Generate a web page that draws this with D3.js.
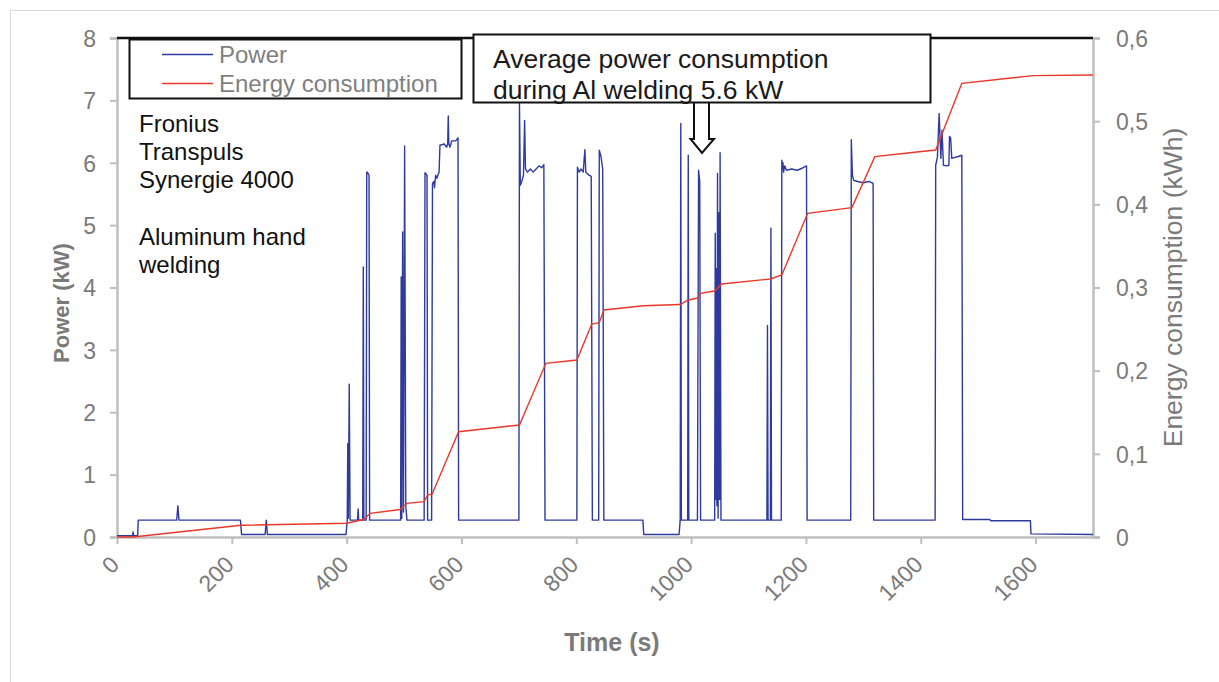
<!DOCTYPE html>
<html>
<head>
<meta charset="utf-8">
<script src="https://cdn.jsdelivr.net/npm/d3@7"></script>
<style>
  html, body { margin: 0; padding: 0; background: #fff; }
  svg { display: block; font-family: "Liberation Sans", Arial, sans-serif; }
</style>
</head>
<body>
<div id="chart"></div>
<script>
// power trace, [time s, kW]
const powerPoints = [
  [0,0.02],[27,0.02],[28,0.08],[29,0.02],[36,0.02],[37,0.27],[104,0.27],[106,0.5],[108,0.27],
  [215,0.27],[217,0.04],[258,0.04],[260,0.27],[262,0.04],[399,0.04],[401,0.27],[402,1.5],
  [403,0.3],[404.5,2.45],[406,0.27],[419,0.27],[420,0.45],[421,0.27],[428,0.27],[429,4.33],
  [430,0.27],[434,0.27],[435,5.85],[436,5.85],[439,5.8],[440,0.27],[494,0.27],[495,4.17],
  [496,0.3],[497.5,4.89],[499,0.4],[501,6.27],[503,0.5],[505,0.27],[535,0.27],[536.5,5.84],
  [540,5.8],[541,0.27],[548,0.27],[549.5,5.67],[552,5.7],[553,5.6],[555,5.8],[557,5.75],
  [561,5.85],[562.5,6.28],[570,6.3],[574,6.25],[576,6.3],[577,6.75],[578,6.3],[580,6.25],
  [583,6.35],[590,6.35],[594,6.4],[595,0.27],[700,0.27],[701,6.95],[702.5,5.64],[705,5.7],
  [708,5.8],[710,6.68],[711.5,5.9],[715,5.85],[720,5.9],[725,5.85],[730,5.9],[735,5.95],
  [740,5.92],[743.5,5.97],[745.5,0.27],[801,0.27],[802,5.93],[805,5.85],[808,5.9],[812,5.85],
  [815,6.21],[816.5,5.85],[822,5.8],[826,5.78],[828,0.27],[839,0.27],[840,6.2],[843,6.1],
  [846,5.9],[848,0.27],[916,0.27],[917.5,0.04],[979,0.04],[981,0.27],[982,6.63],[983,0.27],
  [994,0.27],[995,6.12],[996,0.27],[1011,0.27],[1013,5.88],[1015,5.7],[1016.5,0.27],
  [1041,0.27],[1042,4.87],[1043,0.6],[1044,4.3],[1045,0.5],[1046,5.83],[1047,0.3],
  [1048.5,5.2],[1049.5,0.6],[1050.5,6.16],[1052,0.27],[1132,0.27],[1133,3.39],[1134,0.27],
  [1138,0.27],[1139,4.95],[1140,0.27],[1157,0.27],[1158,6.04],[1159,5.9],[1160,6.0],
  [1161,5.85],[1163,5.95],[1166,5.88],[1175,5.9],[1185,5.88],[1195,5.92],[1201,5.95],
  [1202,0.27],[1278,0.27],[1279,6.37],[1281,5.8],[1283,5.72],[1290,5.7],[1300,5.68],
  [1310,5.7],[1317,5.67],[1318,0.27],[1425,0.27],[1426,5.96],[1429,6.09],[1432,6.79],
  [1435,6.07],[1437,6.52],[1439.5,5.96],[1445,5.95],[1449,5.96],[1450,6.42],[1452,6.4],
  [1454,6.07],[1465,6.1],[1471.5,6.12],[1473,0.28],[1520,0.28],[1522,0.26],[1591,0.26],
  [1592,0.05],[1700,0.04]
];

// cumulative energy, [time s, kWh]
const energyPoints = [
  [0,0],[28,0],[216,0.0141],[400,0.0165],[429,0.021],[441,0.0285],[493,0.033],[505,0.0405],
  [535,0.0425],[541,0.0505],[549,0.0517],[595,0.1266],[701,0.1347],[747,0.2088],[801,0.2128],
  [827,0.256],[840,0.2577],[848,0.273],[917,0.278],[981,0.2795],[995,0.285],[1010,0.287],
  [1016,0.293],[1041,0.2958],[1053,0.3042],[1138,0.3102],[1158,0.315],[1203,0.3892],
  [1280,0.396],[1320,0.4573],[1381,0.462],[1426,0.4653],[1471.5,0.5455],[1596,0.5547],
  [1700,0.5555]
];

const xTicks      = [0, 200, 400, 600, 800, 1000, 1200, 1400, 1600];
const powerTicks  = [0, 1, 2, 3, 4, 5, 6, 7, 8];
const energyTicks = [0, 0.1, 0.2, 0.3, 0.4, 0.5, 0.6];
const legendItems = [
  {name: "Power", color: "#2f3a9e"},
  {name: "Energy consumption", color: "#e8382a"}
];
const noteLines  = ["Average power consumption", "during Al welding 5.6 kW"];
const labelLines = ["Fronius", "Transpuls", "Synergie 4000", "", "Aluminum hand", "welding"];

const W = 1219, H = 682;
const plot = {left: 117, right: 1093, top: 38, bottom: 537};
const axisGray = "#bfbfbf", textGray = "#7a7a7a";

const svg = d3.select("#chart").append("svg")
  .attr("width", W)
  .attr("height", H);

// outer frame (only left and top visible)
svg.append("path")
  .attr("d", `M10.5,${H} V10.5 H${W}`)
  .attr("fill", "none")
  .attr("stroke", "#d9d9d9")
  .attr("stroke-width", 1);

const x  = d3.scaleLinear([0, 1700], [plot.left, plot.right]);
const yP = d3.scaleLinear([0, 8], [plot.bottom, plot.top]);
const yE = d3.scaleLinear([0, 0.6], [plot.bottom, plot.top]);

// axes
const gx = svg.append("g")
  .attr("transform", `translate(0,${plot.bottom})`)
  .call(d3.axisBottom(x).tickValues(xTicks).tickSize(7).tickFormat(d3.format("d")));
gx.select(".domain").attr("d", `M${plot.left},0.5H${plot.right + 7}`);
gx.selectAll("text")
  .attr("text-anchor", "end")
  .attr("y", 0).attr("dy", 0)
  .attr("transform", "translate(3,29) rotate(-45)");

const gl = svg.append("g")
  .attr("transform", `translate(${plot.left},0)`)
  .call(d3.axisLeft(yP).tickValues(powerTicks).tickSize(7).tickPadding(14).tickFormat(d3.format("d")));

const gr = svg.append("g")
  .attr("transform", `translate(${plot.right},0)`)
  .call(d3.axisRight(yE).tickValues(energyTicks).tickSize(7).tickPadding(16)
    .tickFormat(d => d === 0 ? "0" : d3.format(".1f")(d).replace(".", ",")));

[gx, gl, gr].forEach(g => {
  g.selectAll(".domain").attr("stroke", axisGray).attr("stroke-width", 2.5);
  g.selectAll(".tick line").attr("stroke", axisGray).attr("stroke-width", 2);
  g.selectAll("text")
    .attr("fill", textGray)
    .style("font-size", "23px")
    .style("font-family", "'Liberation Sans', Arial, sans-serif");
});
gl.selectAll("text").attr("dy", "0.36em");
gr.selectAll("text").attr("dy", "0.36em");

// black top border of the plot
svg.append("line")
  .attr("x1", plot.left).attr("x2", plot.right)
  .attr("y1", plot.top).attr("y2", plot.top)
  .attr("stroke", "#111").attr("stroke-width", 2.5);

// series
const powerLine = d3.line().x(d => x(d[0])).y(d => yP(d[1]));
const energyLine = d3.line().x(d => x(d[0])).y(d => yE(d[1]));

svg.append("path")
  .datum(powerPoints)
  .attr("d", powerLine)
  .attr("fill", "none")
  .attr("stroke", legendItems[0].color)
  .attr("stroke-width", 1.4)
  .attr("stroke-linejoin", "round");

svg.append("path")
  .datum(energyPoints)
  .attr("d", energyLine)
  .attr("fill", "none")
  .attr("stroke", legendItems[1].color)
  .attr("stroke-width", 1.4);

// axis titles
svg.append("text")
  .attr("transform", "translate(69,303) rotate(-90)")
  .attr("text-anchor", "middle")
  .attr("fill", textGray)
  .style("font-size", "22px")
  .style("font-weight", "bold")
  .text("Power (kW)");

svg.append("text")
  .attr("x", 612).attr("y", 651)
  .attr("text-anchor", "middle")
  .attr("fill", textGray)
  .style("font-size", "25px")
  .style("font-weight", "bold")
  .text("Time (s)");

svg.append("text")
  .attr("transform", "translate(1181.5,287.5) rotate(-90)")
  .attr("text-anchor", "middle")
  .attr("fill", textGray)
  .style("font-size", "26.5px")
  .text("Energy consumption (kWh)");

// legend box
const leg = svg.append("g");
leg.append("rect")
  .attr("x", 129.5).attr("y", 39.5)
  .attr("width", 332).attr("height", 59)
  .attr("fill", "#fff")
  .attr("stroke", "#111").attr("stroke-width", 2);
legendItems.forEach((d, i) => {
  const yy = 54.5 + i * 29;
  leg.append("line")
    .attr("x1", 162).attr("x2", 213)
    .attr("y1", yy).attr("y2", yy)
    .attr("stroke", d.color).attr("stroke-width", 1.5);
  leg.append("text")
    .attr("x", 219).attr("y", yy + 8)
    .attr("fill", "#7f7f7f")
    .style("font-size", "24px")
    .text(d.name);
});

// annotation box and arrow
svg.append("path")
  .attr("d", "M694,102 V139 H690.5 L702,153 L714,139 H709 V102")
  .attr("fill", "#fff")
  .attr("stroke", "#111").attr("stroke-width", 2);
svg.append("rect")
  .attr("x", 473.5).attr("y", 34.5)
  .attr("width", 457).attr("height", 68)
  .attr("fill", "#fff")
  .attr("stroke", "#111").attr("stroke-width", 2);
svg.append("text")
  .attr("fill", "#1a1a1a")
  .style("font-size", "26.5px")
  .selectAll("tspan")
  .data(noteLines)
  .join("tspan")
  .attr("x", 493)
  .attr("y", (d, i) => 68 + i * 30.5)
  .text(d => d);

// welder label
svg.append("text")
  .attr("fill", "#111")
  .style("font-size", "24px")
  .selectAll("tspan")
  .data(labelLines)
  .join("tspan")
  .attr("x", 139)
  .attr("y", (d, i) => 132 + i * 28.2)
  .text(d => d);
</script>
</body>
</html>
